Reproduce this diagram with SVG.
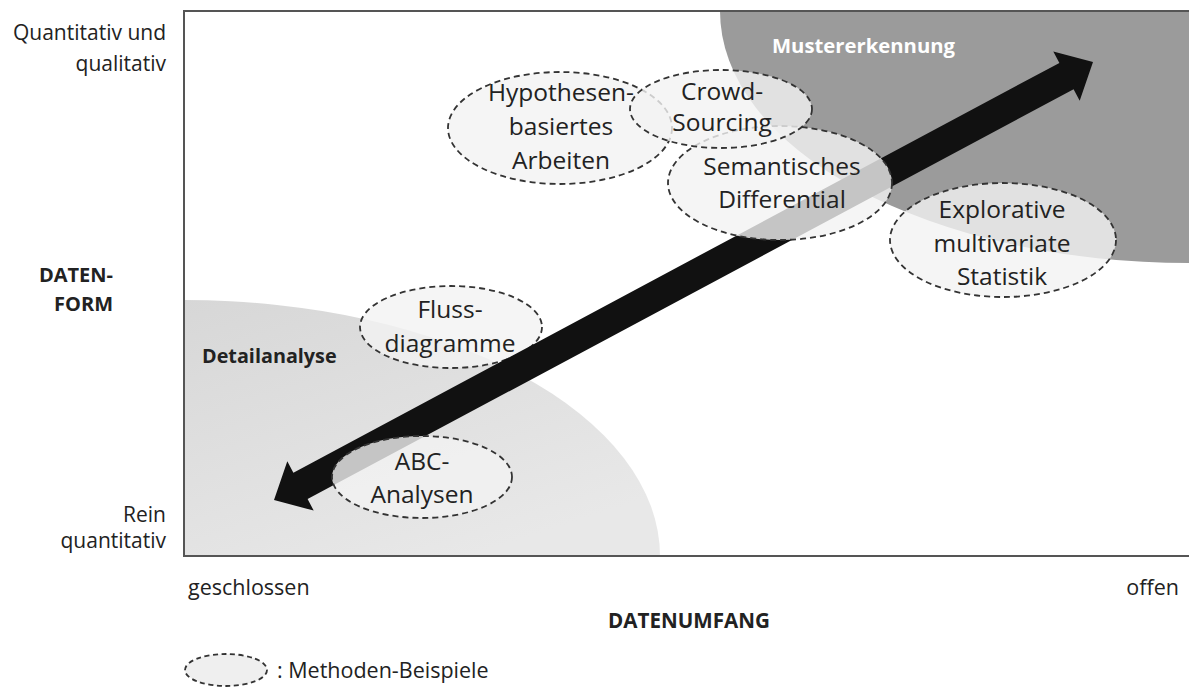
<svg xmlns="http://www.w3.org/2000/svg" width="1189" height="688" viewBox="0 0 1189 688">
<defs>
<linearGradient id="lightGrad" x1="0" y1="0" x2="0.6" y2="1">
<stop offset="0" stop-color="#d7d7d7"/>
<stop offset="1" stop-color="#e8e8e8"/>
</linearGradient>
<style>
.lbl{font-family:"Open Sans","Noto Sans",sans-serif;font-size:21px;fill:#222}
.bold{font-weight:bold}
.node ellipse{fill:#f2f2f2;fill-opacity:0.8;stroke:#333;stroke-width:1.8;stroke-dasharray:6 4}
.node text{font-family:"Open Sans","Noto Sans",sans-serif;font-size:24.5px;fill:#222;text-anchor:middle}
.frame{stroke:#555;stroke-width:2;fill:none}
</style>
</defs>
<rect width="1189" height="688" fill="#fff"/>
<!-- regions -->
<path id="region-muster" d="M 720 11 A 469 252 0 0 0 1189 263 L 1189 11 Z" fill="#9b9b9b"/>
<path id="region-detail" d="M 184 300 A 476 256 0 0 1 660 556 L 184 556 Z" fill="url(#lightGrad)"/>
<text class="lbl bold" x="772" y="53" style="fill:#fff;font-size:20.3px">Mustererkennung</text>
<text class="lbl bold" x="202" y="363" style="font-size:19.8px">Detailanalyse</text>
<!-- frame -->
<path class="frame" d="M 1189 11 L 184 11 L 184 556 L 1189 556"/>
<!-- axis labels -->
<g text-anchor="end">
<text class="lbl" x="166" y="40">Quantitativ und</text>
<text class="lbl" x="166" y="71">qualitativ</text>
<text class="lbl bold" x="113" y="282" style="font-size:20px">DATEN-</text>
<text class="lbl bold" x="113" y="311" style="font-size:20px">FORM</text>
<text class="lbl" x="166" y="522">Rein</text>
<text class="lbl" x="166" y="548">quantitativ</text>
</g>
<text class="lbl" x="188" y="595" style="font-size:21.5px">geschlossen</text>
<text class="lbl" x="1179" y="595" text-anchor="end" style="font-size:21.5px">offen</text>
<text class="lbl bold" x="689" y="628" text-anchor="middle" style="font-size:20.6px">DATENUMFANG</text>
<!-- nodes below arrow -->
<g id="node-hypothesen" class="node">
<ellipse cx="560" cy="128" rx="112" ry="56"/>
<text x="561" y="101">Hypothesen-</text>
<text x="561" y="135">basiertes</text>
<text x="561" y="169">Arbeiten</text>
</g>
<g id="node-fluss" class="node">
<ellipse cx="451" cy="327" rx="91" ry="41"/>
<text x="450" y="318">Fluss-</text>
<text x="450" y="352">diagramme</text>
</g>
<g id="node-explorative" class="node">
<ellipse cx="1003" cy="240" rx="113" ry="57"/>
<text x="1002" y="218">Explorative</text>
<text x="1002" y="252">multivariate</text>
<text x="1002" y="285">Statistik</text>
</g>
<!-- connectors -->
<g id="connectors">
<polygon points="274,500 287.3,461.2 293.4,472.7 1059.4,62.9 1053.3,51.4 1093,62 1079.7,100.8 1073.6,89.3 307.6,499.1 313.7,510.6" fill="#111"/>
</g>
<!-- nodes above arrow -->
<g id="node-semantisches" class="node">
<ellipse cx="780" cy="183" rx="112" ry="57"/>
<text x="782" y="175">Semantisches</text>
<text x="782" y="208">Differential</text>
</g>
<g id="node-abc" class="node">
<ellipse cx="422" cy="477" rx="90" ry="41"/>
<text x="422" y="470">ABC-</text>
<text x="422" y="503">Analysen</text>
</g>
<g id="node-crowd" class="node">
<ellipse cx="721" cy="109" rx="91" ry="39"/>
<text x="722" y="100">Crowd-</text>
<text x="722" y="131">Sourcing</text>
</g>
<!-- legend -->
<g id="legend">
<ellipse cx="226" cy="670" rx="41" ry="16" fill="#efefef" stroke="#333" stroke-width="1.8" stroke-dasharray="5 3.5"/>
<text class="lbl" x="277" y="678" style="font-size:21.5px">: Methoden-Beispiele</text>
</g>
</svg>
